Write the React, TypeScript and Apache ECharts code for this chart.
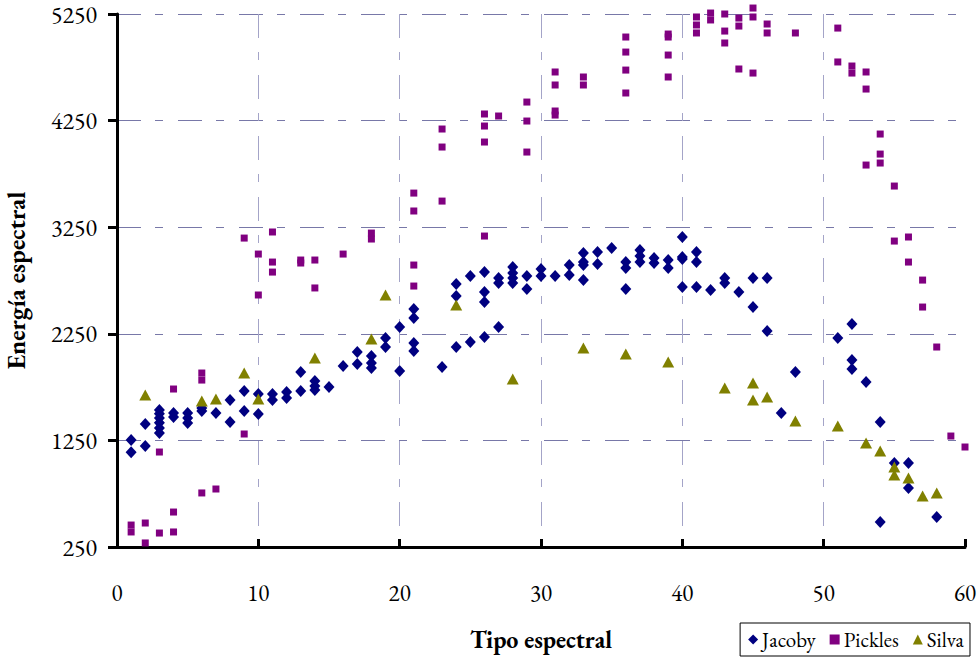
import React, { useEffect, useRef } from "react";
import * as echarts from "echarts";

const seriesNames = ["Jacoby", "Pickles", "Silva"];
const xTicks = [0, 10, 20, 30, 40, 50, 60];
const yTicks = [250, 1250, 2250, 3250, 4250, 5250];

const jacoby: [number, number][] = [
  [1, 1253], [1, 1140],
  [2, 1404], [2, 1197],
  [3, 1535], [3, 1500], [3, 1460], [3, 1415], [3, 1366], [3, 1320],
  [4, 1507], [4, 1470],
  [5, 1507], [5, 1460], [5, 1413],
  [6, 1555], [6, 1525],
  [7, 1507],
  [8, 1629], [8, 1423],
  [9, 1713], [9, 1525],
  [10, 1685], [10, 1498],
  [11, 1685], [11, 1629],
  [12, 1704], [12, 1648],
  [13, 1892], [13, 1713],
  [14, 1807], [14, 1760], [14, 1723],
  [15, 1751],
  [16, 1948],
  [17, 2079], [17, 1967],
  [18, 2042], [18, 1976], [18, 1929],
  [19, 2210], [19, 2126],
  [20, 2314], [20, 1901],
  [21, 2482], [21, 2398], [21, 2164], [21, 2089],
  [23, 1938],
  [24, 2717], [24, 2604], [24, 2126],
  [25, 2792], [25, 2173],
  [26, 2830], [26, 2642], [26, 2548], [26, 2220],
  [27, 2773], [27, 2726], [27, 2314],
  [28, 2876], [28, 2820], [28, 2773], [28, 2726],
  [29, 2792], [29, 2670],
  [30, 2858], [30, 2792],
  [31, 2792],
  [32, 2895], [32, 2801],
  [33, 3008], [33, 2923], [33, 2895], [33, 2754],
  [34, 3017], [34, 2905],
  [35, 3055],
  [36, 2923], [36, 2867], [36, 2670],
  [37, 3036], [37, 2980], [37, 2923],
  [38, 2961], [38, 2914],
  [39, 2942], [39, 2867],
  [40, 3158], [40, 2970], [40, 2951], [40, 2689],
  [41, 3017], [41, 2923], [41, 2689],
  [42, 2661],
  [43, 2773], [43, 2726],
  [44, 2642],
  [45, 2773], [45, 2501],
  [46, 2773], [46, 2276],
  [47, 1507],
  [48, 1892],
  [51, 2210],
  [52, 2342], [52, 2004], [52, 1920],
  [53, 1798],
  [54, 1423], [54, 485],
  [55, 1038],
  [56, 1038], [56, 803],
  [58, 531],
];

const pickles: [number, number][] = [
  [1, 456], [1, 391],
  [2, 475], [2, 288],
  [3, 1141], [3, 381],
  [4, 1732], [4, 578], [4, 391],
  [6, 1882], [6, 1816], [6, 757],
  [7, 794],
  [9, 3148], [9, 1310],
  [10, 2998], [10, 2614],
  [11, 3205], [11, 2923], [11, 2829],
  [13, 2942], [13, 2914],
  [14, 2942], [14, 2680],
  [16, 2998],
  [18, 3195], [18, 3139],
  [21, 3570], [21, 3402], [21, 2895], [21, 2698],
  [23, 4171], [23, 4002], [23, 3495],
  [26, 4312], [26, 4199], [26, 4049], [26, 3167],
  [27, 4293],
  [29, 4424], [29, 4246], [29, 3955],
  [31, 4706], [31, 4584], [31, 4340], [31, 4302],
  [33, 4659], [33, 4584],
  [36, 5034], [36, 4893], [36, 4724], [36, 4509],
  [39, 5062], [39, 5034], [39, 4865], [39, 4659],
  [41, 5222], [41, 5147], [41, 5072],
  [42, 5259], [42, 5194],
  [43, 5250], [43, 5090], [43, 4978],
  [44, 5212], [44, 5137], [44, 4734],
  [45, 5306], [45, 5222], [45, 4696],
  [46, 5156], [46, 5072],
  [48, 5072],
  [51, 5118], [51, 4800],
  [52, 4762], [52, 4696],
  [53, 4706], [53, 4546], [53, 3833],
  [54, 4124], [54, 3936], [54, 3852],
  [55, 3636], [55, 3120],
  [56, 3158], [56, 2923],
  [57, 2754], [57, 2501],
  [58, 2126],
  [59, 1291],
  [60, 1188],
];

const silva: [number, number][] = [
  [2, 1676], [6, 1620], [7, 1638], [9, 1882], [10, 1638], [14, 2023],
  [18, 2201], [19, 2614], [24, 2520], [28, 1826], [33, 2117], [36, 2060],
  [39, 1985], [43, 1741], [45, 1788], [45, 1629], [46, 1657], [48, 1432],
  [51, 1385], [53, 1226], [54, 1150], [55, 1000], [55, 925], [56, 897],
  [57, 728], [58, 756],
];

const FONT = "Garamond, 'EB Garamond', 'Liberation Serif', 'DejaVu Serif', serif";

export default function App() {
  const ref = useRef<HTMLDivElement>(null);
  useEffect(() => {
    if (!ref.current) return;
    const chart = echarts.init(ref.current, undefined, { renderer: "svg" });
    const gridDash = [24, 14, 8, 15];
    chart.setOption({
      animation: false,
      backgroundColor: "#ffffff",
      textStyle: { fontFamily: FONT },
      grid: { left: 117, right: 12, top: 14, bottom: 111, containLabel: false, outerBoundsMode: "none" },
      legend: {
        right: 7,
        bottom: 2,
        orient: "horizontal",
        borderColor: "#000",
        borderWidth: 1,
        borderRadius: 0,
        padding: [6, 6, 6, 8],
        itemGap: 14,
        itemWidth: 10,
        itemHeight: 10,
        textStyle: { fontFamily: FONT, fontSize: 21, color: "#000", padding: [0, 0, 0, -1] },
        data: [
          { name: seriesNames[0], icon: "diamond" },
          { name: seriesNames[1], icon: "rect" },
          { name: seriesNames[2], icon: "triangle" },
        ],
      },
      xAxis: {
        type: "value",
        min: xTicks[0],
        max: xTicks[xTicks.length - 1],
        interval: 10,
        name: "Tipo espectral",
        nameLocation: "middle",
        nameGap: 80,
        nameTextStyle: { fontFamily: FONT, fontSize: 24, fontWeight: "bold", color: "#000" },
        axisLine: { show: true, onZero: false, lineStyle: { color: "#000", width: 3 } },
        axisTick: { show: true, inside: true, length: 8, lineStyle: { color: "#000", width: 3 } },
        axisLabel: { margin: 34, fontSize: 23, color: "#000", fontFamily: FONT, formatter: (v: number) => String(v) },
        splitLine: {
          show: true,
          showMinLine: false,
          showMaxLine: false,
          lineStyle: { color: "#a4a4c8", width: 1, type: gridDash },
        },
      },
      yAxis: {
        type: "value",
        min: yTicks[0],
        max: yTicks[yTicks.length - 1],
        interval: 1000,
        name: "Energía espectral",
        nameLocation: "middle",
        nameGap: 89,
        nameTextStyle: { fontFamily: FONT, fontSize: 25, fontWeight: "bold", color: "#000" },
        axisLine: { show: true, onZero: false, lineStyle: { color: "#000", width: 3 } },
        axisTick: { show: true, inside: false, length: 9, lineStyle: { color: "#000", width: 3 } },
        axisLabel: { margin: 20, fontSize: 24, color: "#000", fontFamily: FONT, formatter: (v: number) => String(v) },
        splitLine: {
          show: true,
          showMinLine: false,
          lineStyle: { color: "#7878a8", width: 1, type: gridDash },
        },
      },
      series: [
        {
          name: seriesNames[0],
          type: "scatter",
          symbol: "diamond",
          symbolSize: [11, 12],
          clip: false,
          itemStyle: { color: "#000080", opacity: 1 },
          data: jacoby,
          z: 3,
        },
        {
          name: seriesNames[1],
          type: "scatter",
          symbol: "rect",
          symbolSize: 7,
          clip: false,
          itemStyle: { color: "#800080", opacity: 1 },
          data: pickles,
          z: 2,
        },
        {
          name: seriesNames[2],
          type: "scatter",
          symbol: "triangle",
          symbolSize: [12, 11],
          clip: false,
          itemStyle: { color: "#808000", opacity: 1 },
          data: silva,
          z: 4,
        },
      ],
    });
    return () => chart.dispose();
  }, []);
  return <div ref={ref} style={{ width: 977, height: 658, position: "absolute", left: 0, top: 0 }} />;
}
